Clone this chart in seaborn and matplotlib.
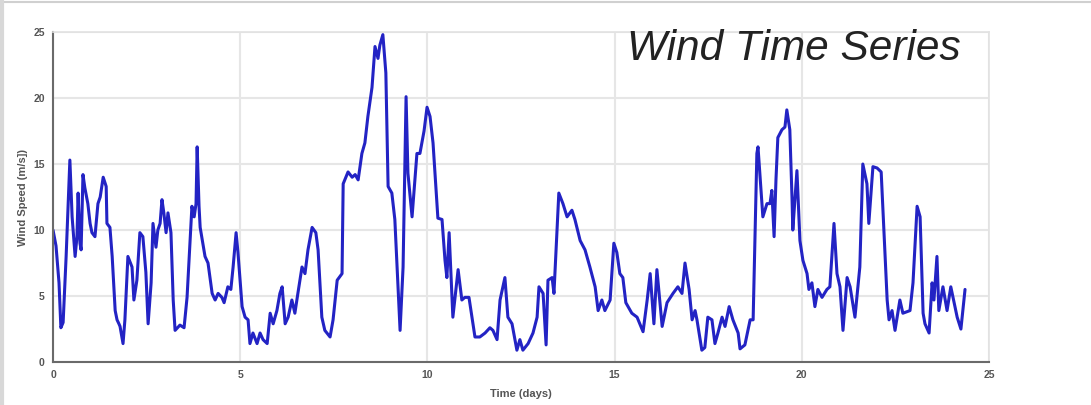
import matplotlib
matplotlib.use("Agg")
import matplotlib.pyplot as plt
import seaborn as sns
import pandas as pd
from matplotlib.lines import Line2D

time_days = [0.00, 0.08, 0.16, 0.21, 0.27, 0.35, 0.45, 0.51, 0.59, 0.64, 0.67, 0.72, 0.75, 0.80, 0.85, 0.93, 0.99,
             1.04, 1.12, 1.20, 1.26, 1.34, 1.42, 1.44, 1.52, 1.58, 1.66, 1.71, 1.76, 1.79, 1.82, 1.87, 1.92,
             2.00, 2.11, 2.16, 2.24, 2.32, 2.40, 2.48, 2.54, 2.62, 2.67, 2.75, 2.80, 2.86, 2.91, 2.96, 3.02,
             3.07, 3.15, 3.21, 3.26, 3.39, 3.50, 3.58, 3.71, 3.77, 3.82, 3.85, 3.90, 3.93, 4.06, 4.14, 4.25,
             4.33, 4.41, 4.51, 4.57, 4.67, 4.75, 4.81, 4.89, 4.94, 5.05, 5.13, 5.21, 5.26, 5.34, 5.45, 5.53,
             5.61, 5.72, 5.80, 5.88, 5.98, 6.06, 6.12, 6.20, 6.28, 6.38, 6.46, 6.54, 6.65, 6.73, 6.81, 6.92,
             7.02, 7.08, 7.18, 7.26, 7.40, 7.48, 7.59, 7.72, 7.75, 7.88, 7.99, 8.07, 8.15, 8.25, 8.33, 8.41,
             8.52, 8.60, 8.68, 8.73, 8.81, 8.89, 8.95, 9.05, 9.13, 9.21, 9.27, 9.35, 9.43, 9.48, 9.59, 9.72,
             9.80, 9.91, 9.99, 10.07, 10.15, 10.28, 10.39, 10.47, 10.52, 10.58, 10.68, 10.82, 10.92, 11.00,
             11.11, 11.27, 11.40, 11.54, 11.67, 11.75, 11.86, 11.94, 12.07, 12.15, 12.26, 12.39, 12.47, 12.55,
             12.69, 12.82, 12.93, 12.98, 13.09, 13.17, 13.22, 13.33, 13.38, 13.51, 13.62, 13.73, 13.86, 13.94,
             14.08, 14.21, 14.34, 14.48, 14.56, 14.66, 14.74, 14.88, 14.98, 15.06, 15.14, 15.22, 15.30, 15.46,
             15.60, 15.76, 15.87, 15.95, 16.05, 16.13, 16.27, 16.40, 16.56, 16.69, 16.80, 16.88, 16.99, 17.07,
             17.15, 17.20, 17.33, 17.41, 17.49, 17.60, 17.68, 17.76, 17.87, 17.95, 18.06, 18.16, 18.30, 18.35,
             18.48, 18.62, 18.70, 18.80, 18.83, 18.88, 18.96, 19.07, 19.15, 19.20, 19.26, 19.31, 19.36, 19.47,
             19.55, 19.60, 19.68, 19.74, 19.76, 19.87, 19.95, 20.03, 20.14, 20.19, 20.27, 20.35, 20.43, 20.54,
             20.67, 20.75, 20.86, 20.94, 21.02, 21.10, 21.21, 21.29, 21.42, 21.55, 21.63, 21.74, 21.79, 21.90,
             22.01, 22.12, 22.28, 22.33, 22.41, 22.49, 22.62, 22.70, 22.89, 22.97, 23.08, 23.16, 23.24, 23.29,
             23.40, 23.48, 23.53, 23.61, 23.66, 23.77, 23.88, 23.98, 24.04, 24.15, 24.25, 24.36]

wind_speed = [10.0, 8.8, 6.0, 2.6, 3.0, 8.0, 15.3, 11.0, 8.0, 9.5, 12.8, 9.0, 8.5, 14.2, 13.2, 12.0, 10.5,
              9.8, 9.5, 12.0, 12.5, 14.0, 13.3, 10.5, 10.2, 8.0, 3.9, 3.2, 2.9, 2.7, 2.2, 1.4, 3.2,
              8.0, 7.2, 4.7, 6.2, 9.8, 9.5, 6.8, 2.9, 6.0, 10.5, 8.7, 10.0, 10.5, 12.3, 11.3, 9.8,
              11.3, 9.8, 4.7, 2.4, 2.8, 2.6, 4.9, 11.8, 11.0, 12.0, 16.3, 11.8, 10.2, 8.0, 7.5, 5.2,
              4.7, 5.2, 4.9, 4.5, 5.7, 5.5, 7.2, 9.8, 8.3, 4.2, 3.4, 3.2, 1.4, 2.2, 1.4, 2.2,
              1.7, 1.4, 3.7, 2.9, 3.9, 5.2, 5.7, 2.9, 3.4, 4.7, 3.7, 5.2, 7.2, 6.7, 8.5, 10.2,
              9.8, 8.5, 3.4, 2.4, 1.9, 3.2, 6.2, 6.7, 13.5, 14.4, 14.0, 14.2, 13.8, 15.8, 16.6, 18.6,
              20.8, 23.9, 23.0, 24.0, 24.8, 21.9, 13.3, 12.8, 10.8, 6.0, 2.4, 7.2, 20.1, 14.3, 11.0, 15.8,
              15.8, 17.5, 19.3, 18.6, 16.6, 10.9, 10.8, 7.7, 6.4, 9.8, 3.4, 7.0, 4.7, 4.9,
              4.9, 1.9, 1.9, 2.2, 2.6, 2.4, 1.7, 4.7, 6.4, 3.4, 2.9, 0.9, 1.7, 0.9,
              1.4, 2.2, 3.4, 5.7, 5.2, 1.3, 6.2, 6.4, 5.2, 12.8, 12.0, 11.0, 11.5, 10.8,
              9.2, 8.5, 7.2, 5.7, 3.9, 4.7, 3.9, 4.7, 9.0, 8.3, 6.7, 6.4, 4.5, 3.7,
              3.4, 2.3, 4.7, 6.7, 2.9, 7.0, 2.7, 4.5, 5.2, 5.7, 5.2, 7.5, 5.5, 3.2,
              3.9, 3.2, 0.9, 1.1, 3.4, 3.2, 1.4, 2.2, 3.4, 2.7, 4.2, 3.2, 2.2, 1.0,
              1.3, 3.2, 3.2, 15.8, 16.3, 14.3, 11.0, 12.0, 12.0, 13.0, 9.5, 13.8, 17.0, 17.6,
              17.8, 19.1, 17.6, 12.3, 10.0, 14.5, 9.2, 7.7, 6.7, 5.5, 6.0, 4.2, 5.5, 4.9,
              5.5, 5.7, 10.5, 6.7, 5.7, 2.4, 6.4, 5.7, 3.4, 7.2, 15.0, 13.5, 10.5, 14.8,
              14.7, 14.4, 4.7, 3.2, 3.9, 2.4, 4.7, 3.7, 3.9, 6.0, 11.8, 11.0, 3.7, 2.9,
              2.2, 6.0, 4.7, 8.0, 3.9, 5.7, 3.9, 5.7, 4.9, 3.4, 2.5, 5.5]

x_ticks = [0, 5, 10, 15, 20, 25]
y_ticks = [0, 5, 10, 15, 20, 25]
title_text = "Wind Time Series"
x_label = "Time (days)"
y_label = "Wind Speed (m/s])"

df = pd.DataFrame({"t": time_days, "v": wind_speed})

sns.set_style("whitegrid")
plt.rcParams["font.family"] = ["Liberation Sans", "DejaVu Sans"]

fig = plt.figure(figsize=(10.91, 4.05), dpi=100)
ax = fig.add_axes([0.0486, 0.106, 0.8579, 0.815])

sns.lineplot(data=df, x="t", y="v", ax=ax, sort=False, estimator=None,
             color="#2323c4", linewidth=2.2, solid_joinstyle="round", solid_capstyle="round")

ax.set_xlim(0, 25)
ax.set_ylim(0, 25)
ax.set_xticks(x_ticks)
ax.set_yticks(y_ticks)
ax.set_xticklabels([str(v) for v in x_ticks], fontsize=7.5, fontweight="bold", color="#555555")
ax.set_yticklabels([str(v) for v in y_ticks], fontsize=7.5, fontweight="bold", color="#555555")
ax.tick_params(axis="both", direction="in", length=4, width=1, color="#555555", pad=6)
ax.grid(True, color="#e6e6e6", linewidth=1.5)
ax.set_axisbelow(True)

for side in ["left", "bottom"]:
    ax.spines[side].set_color("#6a6a6a")
    ax.spines[side].set_linewidth(1.5)
for side in ["top", "right"]:
    ax.spines[side].set_color("#e2e2e2")
    ax.spines[side].set_linewidth(1.2)

ax.set_xlabel(x_label, fontsize=8, fontweight="bold", color="#555555", labelpad=6)
ax.set_ylabel(y_label, fontsize=8, fontweight="bold", color="#555555", labelpad=4)

ax.text(0.97, 0.915, title_text, transform=ax.transAxes, ha="right", va="baseline",
        fontsize=30.5, fontstyle="italic", color="#222222")

# light frame around picture
fig.add_artist(Line2D([0, 1], [0.995, 0.995], transform=fig.transFigure, color="#d0d0d0", linewidth=1.5))
fig.add_artist(Line2D([0.002, 0.002], [0, 1], transform=fig.transFigure, color="#d8d8d8", linewidth=3))

fig.savefig("out.png", dpi=100, facecolor="white")
